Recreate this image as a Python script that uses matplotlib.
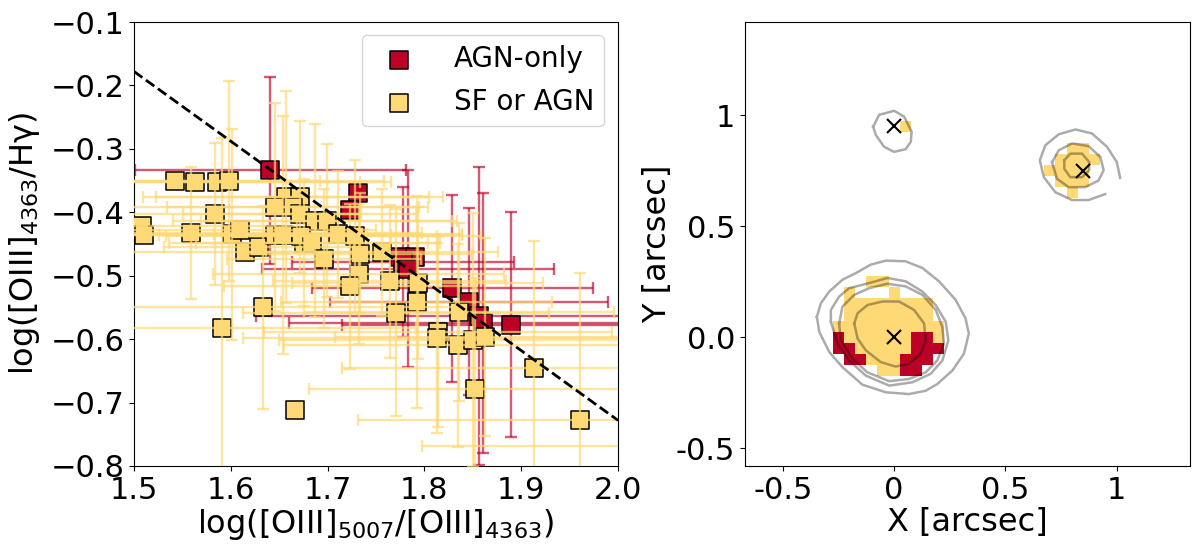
import numpy as np
import matplotlib
matplotlib.use('Agg')
import matplotlib.pyplot as plt
from matplotlib.colors import ListedColormap

RED = '#BD0026'
YELLOW = '#FED976'

# left panel, line ratios
agn_x = [1.641, 1.731, 1.723, 1.775, 1.790, 1.778, 1.783, 1.829, 1.846, 1.856, 1.861, 1.889]
agn_y = [-0.334, -0.369, -0.397, -0.470, -0.470, -0.478, -0.489, -0.520, -0.541, -0.564, -0.574, -0.577]
agn_xerr = [0.140, 0, 0, 0, 0, 0.115, 0.151, 0.145, 0.144, 0.230, 0.201, 0.174]
agn_yerr = [0.148, 0, 0, 0, 0, 0.118, 0.155, 0.148, 0.147, 0.235, 0.205, 0.177]

sf_x = [1.542, 1.563, 1.586, 1.598, 1.584, 1.508, 1.510, 1.559, 1.601, 1.610, 1.615, 1.629,
        1.657, 1.646, 1.671, 1.664, 1.671, 1.687, 1.699, 1.646, 1.654, 1.676, 1.673, 1.684,
        1.696, 1.711, 1.728, 1.733, 1.732, 1.723, 1.633, 1.756, 1.764, 1.793, 1.792, 1.771,
        1.836, 1.814, 1.813, 1.835, 1.850, 1.863, 1.852, 1.913, 1.961, 1.591, 1.666, 2.023]
sf_y = [-0.351, -0.353, -0.353, -0.351, -0.402, -0.422, -0.436, -0.432, -0.435, -0.428, -0.462, -0.455,
        -0.376, -0.392, -0.376, -0.391, -0.403, -0.413, -0.413, -0.436, -0.436, -0.448, -0.438, -0.448,
        -0.473, -0.435, -0.438, -0.465, -0.497, -0.517, -0.550, -0.463, -0.509, -0.511, -0.541, -0.558,
        -0.557, -0.588, -0.598, -0.610, -0.601, -0.596, -0.678, -0.645, -0.727, -0.583, -0.712, -0.768]
sf_xerr = [0.150, 0.170, 0.180, 0.160, 0.150, 0.160, 0.150, 0.239, 0.140, 0.140, 0.130, 0.098,
           0.148, 0.158, 0.148, 0.130, 0.120, 0.147, 0.130, 0.120, 0.185, 0.140, 0.140, 0.120,
           0.100, 0.128, 0.130, 0.116, 0.150, 0.130, 0.200, 0.120, 0.120, 0.130, 0.140, 0.158,
           0.160, 0.180, 0.200, 0.180, 0.200, 0.155, 0.171, 0.198, 0.230, 0.200, 0, 0.225]
sf_yerr = [0, 0, 0, 0.158, 0.112, 0, 0, 0.104, 0.167, 0, 0, 0,
           0.167, 0.164, 0.120, 0, 0, 0.152, 0.120, 0, 0.188, 0.100, 0, 0,
           0.110, 0.100, 0.120, 0.096, 0.110, 0.130, 0.160, 0.100, 0.120, 0.120, 0.167, 0.163,
           0.140, 0.150, 0.150, 0.160, 0.200, 0.156, 0.174, 0.200, 0.232, 0.300, 0, 0.100]

line_x = [1.5, 2.0]
line_y = [-0.178, -0.728]

# right panel, spaxels on a 0.05 arcsec grid: y -> x columns
sf_cells = {
    0.95: [0.05],
    0.85: [0.80, 0.85],
    0.80: [0.75, 0.80, 0.85, 0.90],
    0.75: [0.70, 0.75, 0.80, 0.85],
    0.70: [0.75, 0.80, 0.85],
    0.65: [0.80],
    0.25: [-0.10, -0.05],
    0.20: [-0.20, 0.0],
    0.15: [-0.20, -0.15, -0.10, -0.05, 0.0, 0.05, 0.10, 0.15],
    0.10: [-0.20, -0.15, -0.10, -0.05, 0.0, 0.05, 0.10, 0.15],
    0.05: [-0.25, -0.20, -0.15, -0.10, -0.05, 0.0, 0.05, 0.10, 0.15, 0.20],
    0.0: [-0.20, -0.15, -0.10, -0.05, 0.0, 0.05, 0.20],
    -0.05: [-0.15, -0.10, -0.05, 0.0, 0.05],
    -0.10: [-0.10, -0.05, 0.0],
    -0.15: [-0.05, 0.0],
}
agn_cells = {
    0.0: [-0.25, 0.10, 0.15],
    -0.05: [-0.25, -0.20, 0.10, 0.15, 0.20],
    -0.10: [-0.20, -0.15, 0.05, 0.10, 0.15],
    -0.15: [0.05, 0.10],
}

# flux contours around the three sources
outer_x = [-0.347, -0.329, -0.291, -0.232, -0.172, -0.105, -0.037, 0.052, 0.127, 0.202, 0.277, 0.321,
           0.336, 0.314, 0.262, 0.194, 0.142, 0.067, -0.037, -0.142, -0.232, -0.291, -0.336, -0.347]
outer_y = [0.092, 0.153, 0.206, 0.259, 0.289, 0.327, 0.345, 0.342, 0.312, 0.252, 0.168, 0.085,
           0.017, -0.074, -0.150, -0.211, -0.241, -0.256, -0.248, -0.214, -0.135, -0.067, 0.024, 0.092]
second_x = [-0.284, -0.284, -0.247, -0.202, -0.112, -0.030, 0.052, 0.127, 0.187, 0.232,
            0.244, 0.217, 0.164, 0.082, -0.022, -0.127, -0.202, -0.254, -0.284]
second_y = [0.070, 0.123, 0.183, 0.221, 0.244, 0.267, 0.252, 0.206, 0.145, 0.070,
            -0.014, -0.105, -0.165, -0.203, -0.218, -0.173, -0.105, -0.029, 0.070]
third_x = [-0.247, -0.232, -0.179, -0.112, -0.030, 0.052, 0.127, 0.187, 0.217,
           0.224, 0.194, 0.142, 0.067, -0.022, -0.120, -0.187, -0.239, -0.247]
third_y = [0.062, 0.138, 0.191, 0.221, 0.241, 0.229, 0.191, 0.123, 0.047,
           -0.029, -0.105, -0.158, -0.188, -0.198, -0.158, -0.097, -0.014, 0.062]
inner_x = [-0.179, -0.164, -0.120, -0.052, 0.022, 0.090, 0.135, 0.142,
           0.120, 0.067, 0.007, -0.060, -0.127, -0.164, -0.179]
inner_y = [0.062, 0.108, 0.145, 0.161, 0.161, 0.123, 0.062, -0.014,
           -0.074, -0.120, -0.132, -0.112, -0.059, -0.006, 0.062]
small_x = [-0.094, -0.067, 0.0, 0.045, 0.079, 0.075, 0.052, 0.0, -0.045, -0.082, -0.094]
small_y = [0.948, 1.002, 1.020, 0.994, 0.926, 0.880, 0.847, 0.835, 0.858, 0.911, 0.948]
spiral_x = [1.016, 1.001, 0.957, 0.889, 0.815, 0.740, 0.680, 0.655, 0.673, 0.725, 0.800, 0.874, 0.949]
spiral_y = [0.718, 0.789, 0.858, 0.918, 0.936, 0.914, 0.865, 0.797, 0.721, 0.653, 0.618, 0.618, 0.645]
ring_x = [0.710, 0.740, 0.800, 0.874, 0.927, 0.942, 0.919, 0.859, 0.785, 0.732, 0.710]
ring_y = [0.789, 0.842, 0.873, 0.861, 0.812, 0.752, 0.706, 0.676, 0.676, 0.714, 0.789]
core_x = [0.765, 0.792, 0.845, 0.877, 0.877, 0.845, 0.792, 0.765, 0.765]
core_y = [0.797, 0.827, 0.827, 0.789, 0.752, 0.721, 0.721, 0.759, 0.797]

source_x = [0.0, 0.0, 0.85]
source_y = [0.0, 0.95, 0.75]

xticks_left = [1.5, 1.6, 1.7, 1.8, 1.9, 2.0]
yticks_left = [-0.8, -0.7, -0.6, -0.5, -0.4, -0.3, -0.2, -0.1]
xticks_right = [-0.5, 0, 0.5, 1]
xticklabels_right = ['-0.5', '0', '0.5', '1']
yticks_right = [-0.5, 0, 0.5, 1]
yticklabels_right = ['-0.5', '0.0', '0.5', '1']

plt.rcParams['font.size'] = 22
plt.rcParams['mathtext.default'] = 'regular'

fig = plt.figure(figsize=(12, 5.55), dpi=100)
ax = fig.add_axes([134 / 1200, 1 - 466 / 555, 484 / 1200, 444 / 555])
ax2 = fig.add_axes([745 / 1200, 1 - 466 / 555, 445 / 1200, 444 / 555])

ax.errorbar(agn_x, agn_y, xerr=agn_xerr, yerr=agn_yerr, fmt='none', ecolor=RED, alpha=0.65,
            elinewidth=1.7, capsize=4, capthick=1.7, zorder=2)
ax.scatter(agn_x, agn_y, marker='s', s=150, c=RED, edgecolors='k', linewidths=1.1, zorder=3, label='AGN-only')
ax.scatter(sf_x, sf_y, marker='s', s=150, c=YELLOW, edgecolors='k', linewidths=1.1, zorder=4, label='SF or AGN')
# the pale bars run over the marker edges
ax.errorbar(sf_x, sf_y, xerr=sf_xerr, yerr=sf_yerr, fmt='none', ecolor=YELLOW, alpha=0.7,
            elinewidth=1.7, capsize=4, capthick=1.7, zorder=5)
ax.plot(line_x, line_y, 'k--', lw=2, zorder=6)

ax.set_xlim(1.5, 2.0)
ax.set_ylim(-0.8, -0.1)
ax.set_xticks(xticks_left)
ax.set_yticks(yticks_left)
ax.set_xlabel(r'log([OIII]$_{5007}$/[OIII]$_{4363}$)', fontsize=23, labelpad=2)
ax.set_ylabel(r'log([OIII]$_{4363}$/H$\gamma$)', fontsize=23, labelpad=6)
ax.legend(loc='upper right', fontsize=20, handletextpad=0.95, borderpad=0.36,
          bbox_to_anchor=(0.971, 0.971), borderaxespad=0.0, labelspacing=0.55)

# spaxel map: 0 = SF or AGN, 1 = AGN-only
grid_x = np.round(np.arange(-0.30, 1.0001, 0.05), 2)
grid_y = np.round(np.arange(-0.20, 1.0001, 0.05), 2)
cells = np.full((len(grid_y), len(grid_x)), np.nan)
for value, table in enumerate([sf_cells, agn_cells]):
    for row, cols in table.items():
        for col in cols:
            cells[np.argmin(np.abs(grid_y - row)), np.argmin(np.abs(grid_x - col))] = value
ax2.pcolormesh(grid_x, grid_y, np.ma.masked_invalid(cells), cmap=ListedColormap([YELLOW, RED]),
               vmin=0, vmax=1, shading='nearest', zorder=1)

for cx, cy in [(outer_x, outer_y), (second_x, second_y), (third_x, third_y), (inner_x, inner_y),
               (small_x, small_y), (spiral_x, spiral_y), (ring_x, ring_y), (core_x, core_y)]:
    ax2.plot(cx, cy, color='k', alpha=0.33, lw=1.8, zorder=2)
ax2.plot(source_x, source_y, 'x', color='k', ms=9.5, mew=1.5, zorder=3)

ax2.set_xlim(-0.67, 1.33)
ax2.set_ylim(-0.58, 1.42)
ax2.set_xticks(xticks_right)
ax2.set_xticklabels(xticklabels_right)
ax2.set_yticks(yticks_right)
ax2.set_yticklabels(yticklabels_right)
ax2.set_xlabel('X [arcsec]', fontsize=23, labelpad=2)
ax2.set_ylabel('Y [arcsec]', fontsize=23, labelpad=2)

fig.savefig('out.png', dpi=100)
